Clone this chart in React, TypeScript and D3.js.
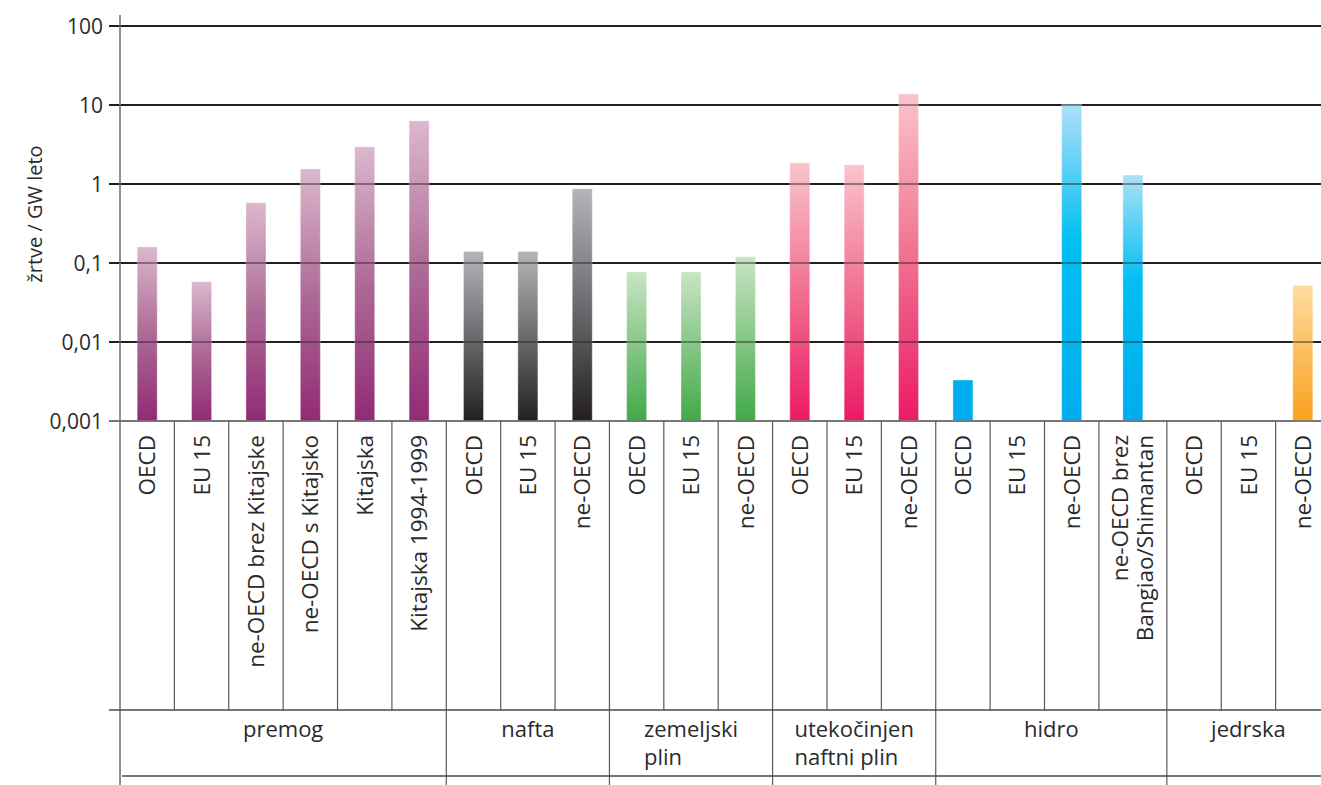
import React from "react";
import * as d3 from "d3";

// ---- data ----
const groups = ["premog", "nafta", "zemeljski plin", "utekočinjen naftni plin", "hidro", "jedrska"];
const groupLabelLines: string[][] = [["premog"], ["nafta"], ["zemeljski", "plin"], ["utekočinjen", "naftni plin"], ["hidro"], ["jedrska"]];
const categoryLabels: string[][] = [
  ["OECD"], ["EU 15"], ["ne-OECD brez Kitajske"], ["ne-OECD s Kitajsko"], ["Kitajska"], ["Kitajska 1994-1999"],
  ["OECD"], ["EU 15"], ["ne-OECD"],
  ["OECD"], ["EU 15"], ["ne-OECD"],
  ["OECD"], ["EU 15"], ["ne-OECD"],
  ["OECD"], ["EU 15"], ["ne-OECD"], ["ne-OECD brez", "Bangiao/Shimantan"],
  ["OECD"], ["EU 15"], ["ne-OECD"],
];
const categoryGroup = [0, 0, 0, 0, 0, 0, 1, 1, 1, 2, 2, 2, 3, 3, 3, 4, 4, 4, 4, 5, 5, 5];
const values: (number | null)[] = [
  0.16, 0.058, 0.58, 1.55, 2.95, 6.3,
  0.14, 0.14, 0.87,
  0.077, 0.077, 0.12,
  1.85, 1.75, 13.8,
  0.0033, null, 10.2, 1.3,
  null, null, 0.052,
];
const yTicks = [0.001, 0.01, 0.1, 1, 10, 100];
const yTickLabels = ["0,001", "0,01", "0,1", "1", "10", "100"];
const yTitle = "žrtve / GW leto";

const groupStops: [number, string][][] = [
  [[0, "#dcb8cd"], [0.5, "#ad6a96"], [1, "#922a75"]],
  [[0, "#b4b5b8"], [0.5, "#6b6c6f"], [1, "#231f20"]],
  [[0, "#c9e4c4"], [1, "#42a948"]],
  [[0, "#fac4cc"], [0.5, "#f07090"], [1, "#ec1a66"]],
  [[0, "#aee0f8"], [0.43, "#00bff2"], [1, "#00adee"]],
  [[0, "#fedc9f"], [1, "#f9a11b"]],
];

const W = 1321, H = 785;
const FONT = "'Open Sans', sans-serif";
const TXT = "#2b2a2b";

export default function App() {
  const x0 = 120, x1 = 1330;
  const yTop = 26, yBot = 421;
  const y = d3.scaleLog().domain([0.001, 100]).range([yBot, yTop]);

  // category widths: two-line labels get a bit more room
  const weights = categoryLabels.map((l) => (l.length > 1 ? 1.25 : 1));
  const cum = d3.cumsum(weights);
  const xu = d3.scaleLinear().domain([0, cum[cum.length - 1]]).range([x0, x1]);
  const catStart = weights.map((w, i) => xu(cum[i] - w));
  const catEnd = weights.map((w, i) => xu(cum[i]));
  const barW = 20;

  const groupStart = groups.map((_, g) => catStart[categoryGroup.indexOf(g)]);
  const groupEnd = groups.map((_, g) => catEnd[categoryGroup.lastIndexOf(g)]);

  const lineY1 = 710, lineY2 = 776;

  const measure = (() => {
    const c = document.createElement("canvas").getContext("2d")!;
    c.font = `22px ${FONT}`;
    return (s: string) => c.measureText(s).width;
  })();

  return (
    <svg width={W} height={H} style={{ display: "block", position: "absolute", left: 0, top: 0 }} fontFamily={FONT}>
      <defs>
        {values.map((v, i) => {
          const stops = groupStops[categoryGroup[i]];
          return (
            <linearGradient key={i} id={`g${i}`} x1="0" y1="0" x2="0" y2="1">
              {stops.map(([o, c], k) => (
                <stop key={k} offset={o} stopColor={c} />
              ))}
            </linearGradient>
          );
        })}
      </defs>
      <rect width={W} height={H} fill="#fff" />
      {/* gridlines */}
      {yTicks.map((t, i) => (
        <line key={i} x1={109} x2={x1} y1={y(t)} y2={y(t)} stroke={i === 0 ? "#6d6e71" : "#231f20"} strokeWidth={i === 0 ? 1.5 : 2} />
      ))}
      {/* bars */}
      {values.map((v, i) => {
        if (v == null) return null;
        const cx = (catStart[i] + catEnd[i]) / 2;
        const top = y(v);
        const h = yBot - top;
        const solid = h < 60;
        const stops = groupStops[categoryGroup[i]];
        return (
          <rect key={i} x={cx - barW / 2} y={top} width={barW} height={h}
            fill={solid ? stops[stops.length - 1][1] : `url(#g${i})`}
            stroke="#ffffff" strokeOpacity={0.35} strokeWidth={1} />
        );
      })}
      {/* gridlines showing through bars */}
      {yTicks.slice(1).map((t, i) => (
        <line key={i} x1={x0} x2={x1} y1={y(t)} y2={y(t)} stroke="#231f20" strokeWidth={2} strokeOpacity={0.45} />
      ))}
      {/* y tick labels */}
      {yTicks.map((t, i) => (
        <text key={i} x={103} y={y(t)} dy="0.36em" textAnchor="end" fontSize={21} fill={TXT}>{yTickLabels[i]}</text>
      ))}
      <text transform={`translate(42,${214}) rotate(-90)`} textAnchor="middle" fontSize={20} fill={TXT}>{yTitle}</text>
      {/* x axis line */}
      <line x1={109} x2={x1} y1={yBot} y2={yBot} stroke="#6d6e71" strokeWidth={1.5} />
      {/* category separators */}
      {catStart.map((s, i) => (i === 0 ? null : (
        <line key={i} x1={s} x2={s} y1={yBot} y2={categoryGroup[i] !== categoryGroup[i - 1] ? H : lineY1} stroke="#5a5a5c" strokeWidth={1.2} />
      )))}
      {/* vertical axis */}
      <line x1={x0} x2={x0} y1={15} y2={H} stroke="#6d6e71" strokeWidth={1.5} />
      {/* horizontal group lines */}
      <line x1={109} x2={x1} y1={lineY1} y2={lineY1} stroke="#4a4a4c" strokeWidth={1.5} />
      <line x1={122} x2={x1} y1={lineY2} y2={lineY2} stroke="#4a4a4c" strokeWidth={1.5} />
      {/* category labels */}
      {categoryLabels.map((lines, i) => {
        const cx = (catStart[i] + catEnd[i]) / 2;
        const n = lines.length;
        return lines.map((l, k) => (
          <text key={`${i}-${k}`} transform={`translate(${cx + (k - (n - 1) / 2) * 25},${435}) rotate(-90)`}
            dy="0.36em" textAnchor="end" fontSize={22.5} fill={TXT}>{l}</text>
        ));
      })}
      {/* group labels */}
      {groupLabelLines.map((lines, g) => {
        const cx = (groupStart[g] + groupEnd[g]) / 2;
        const maxW = d3.max(lines, (l) => measure(l)) || 0;
        return lines.map((l, k) => (
          <text key={`${g}-${k}`} x={lines.length > 1 ? cx - maxW / 2 : cx} y={737 + k * 28}
            textAnchor={lines.length > 1 ? "start" : "middle"} fontSize={22} fill={TXT}>{l}</text>
        ));
      })}
    </svg>
  );
}
